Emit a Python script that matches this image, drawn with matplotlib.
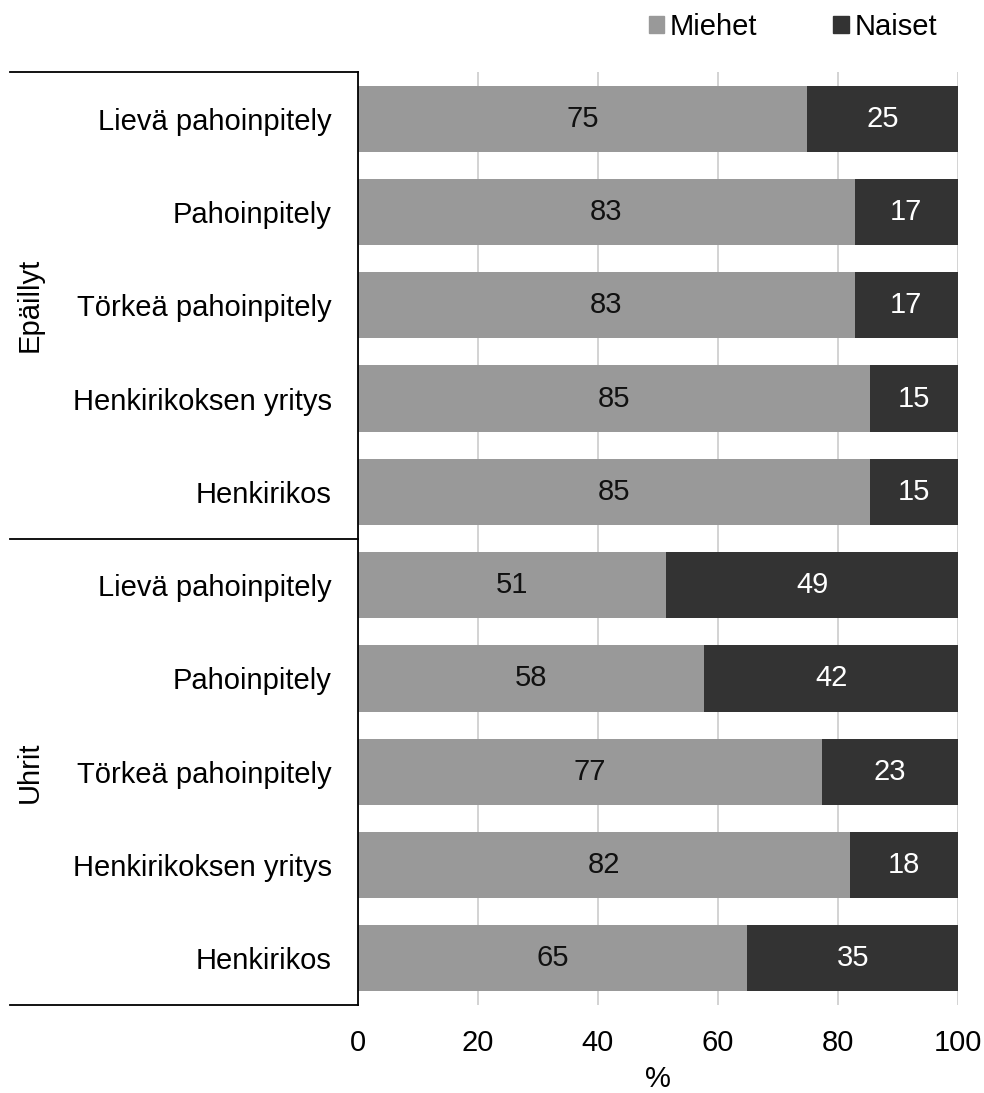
import matplotlib
matplotlib.use("Agg")
import matplotlib.pyplot as plt
from matplotlib.lines import Line2D
from matplotlib.patches import Patch

plt.rcParams['font.family'] = ['Liberation Sans', 'DejaVu Sans']

categories = ["Lievä pahoinpitely", "Pahoinpitely", "Törkeä pahoinpitely",
              "Henkirikoksen yritys", "Henkirikos",
              "Lievä pahoinpitely", "Pahoinpitely", "Törkeä pahoinpitely",
              "Henkirikoksen yritys", "Henkirikos"]
groups = ["Epäillyt", "Uhrit"]
miehet = [74.8, 82.8, 82.8, 85.4, 85.4, 51.4, 57.7, 77.4, 82.0, 64.9]
naiset = [25.2, 17.2, 17.2, 14.6, 14.6, 48.6, 42.3, 22.6, 18.0, 35.1]
series_names = ["Miehet", "Naiset"]
xticks = [0, 20, 40, 60, 80, 100]

c_m = "#999999"
c_n = "#333333"
fs = 21

W, H = 984, 1093
fig = plt.figure(figsize=(W / 100, H / 100), dpi=100)
ax = fig.add_axes([358 / W, (H - 1005) / H, 600 / W, 933 / H])

n = len(categories)
ypos = list(range(n))
ax.barh(ypos, miehet, height=0.71, color=c_m, zorder=3, label=series_names[0])
ax.barh(ypos, naiset, left=miehet, height=0.71, color=c_n, zorder=3, label=series_names[1])

for i in range(n):
    ax.text(miehet[i] / 2, i, f"{miehet[i]:.0f}", ha="center", va="center",
            fontsize=fs, color="#111111", zorder=4)
    ax.text(miehet[i] + naiset[i] / 2, i, f"{naiset[i]:.0f}", ha="center", va="center",
            fontsize=fs, color="white", zorder=4)

ax.set_ylim(n - 0.5, -0.5)
ax.set_xlim(0, 100)
ax.set_yticks(ypos)
ax.set_yticklabels(categories, fontsize=fs)
ax.set_xticks(xticks)
ax.set_xticklabels([str(t) for t in xticks], fontsize=fs)
ax.tick_params(axis="both", length=0)
ax.tick_params(axis="y", pad=19)
ax.tick_params(axis="x", pad=17)
ax.set_xlabel("%", fontsize=fs, labelpad=6)

for s in ["top", "right", "bottom"]:
    ax.spines[s].set_visible(False)
ax.spines["left"].set_color("black")
ax.spines["left"].set_linewidth(1.3)
ax.spines["left"].set_zorder(5)

ax.xaxis.grid(True, color="#d0d0d0", linewidth=1.3, zorder=0)
ax.set_axisbelow(True)

# table lines on the left
xl = (10 - 358) / 600
for yv in [-0.5, 4.5, 9.5]:
    ax.add_line(Line2D([xl, 0], [yv, yv], transform=ax.get_yaxis_transform(),
                       color="black", linewidth=1.3, clip_on=False))

xg = (30 - 358) / 600
ax.text(xg, 2, groups[0], rotation=90, ha="center", va="center", fontsize=fs,
        transform=ax.get_yaxis_transform())
ax.text(xg, 7, groups[1], rotation=90, ha="center", va="center", fontsize=fs,
        transform=ax.get_yaxis_transform())

handles = [Patch(color=c_m), Patch(color=c_n)]
fig.legend(handles, series_names, loc="center", bbox_to_anchor=(793 / W, 1 - 27 / H),
           ncol=2, frameon=False, fontsize=fs, handlelength=0.52, handleheight=0.52,
           handletextpad=0.2, columnspacing=2.6, borderpad=0, borderaxespad=0)

fig.savefig("out.png", dpi=100)
